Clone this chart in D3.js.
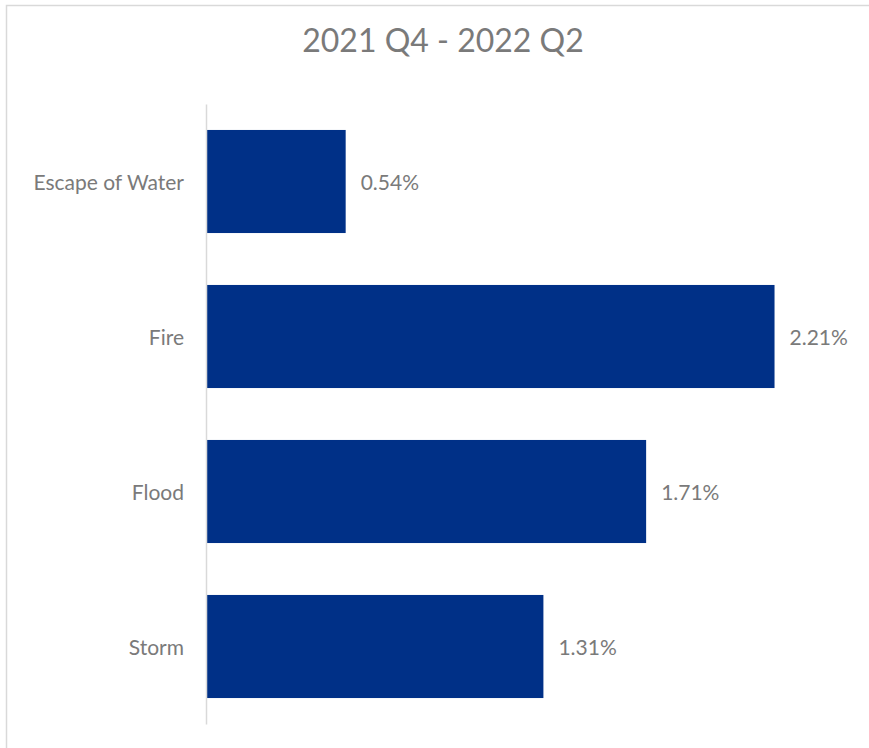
<!DOCTYPE html>
<html>
<head>
<meta charset="utf-8">
<script src="https://cdn.jsdelivr.net/npm/d3@7"></script>
<style>
  body { margin: 0; background: #fff; }
  text { font-family: Lato, "Open Sans", sans-serif; fill: #7a7a7a; }
</style>
</head>
<body>
<div id="chart"></div>
<script>
// chart data
var categories = ["Escape of Water", "Fire", "Flood", "Storm"];
var values = [0.54, 2.21, 1.71, 1.31];
var title = "2021 Q4 - 2022 Q2";

var W = 869, H = 748;
var margin = {top: 104, right: 20, bottom: 24, left: 207};

var svg = d3.select("#chart")
  .append("svg")
    .attr("width", W)
    .attr("height", H);

// chart frame (only top + left visible in the crop)
svg.append("rect")
    .attr("x", 6.5)
    .attr("y", 5.5)
    .attr("width", 1000)
    .attr("height", 1000)
    .attr("fill", "none")
    .attr("stroke", "#d9d9d9")
    .attr("stroke-width", 1.5);

svg.append("text")
    .attr("x", 443)
    .attr("y", 52)
    .attr("text-anchor", "middle")
    .style("font-size", "32px")
    .text(title);

var x = d3.scaleLinear()
    .domain([0, 2.5])
    .range([margin.left, 849]);

var y = d3.scaleBand()
    .domain(categories)
    .range([margin.top, H - margin.bottom])
    .paddingInner(0.335)
    .paddingOuter(0.1675);

var data = categories.map(function(c, i) { return {cat: c, val: values[i]}; });

svg.selectAll("rect.bar")
  .data(data)
  .enter()
  .append("rect")
    .attr("class", "bar")
    .attr("x", x(0))
    .attr("y", function(d) { return y(d.cat); })
    .attr("width", function(d) { return x(d.val) - x(0); })
    .attr("height", y.bandwidth())
    .attr("fill", "#003087");

// value labels
svg.selectAll("text.val")
  .data(data)
  .enter()
  .append("text")
    .attr("class", "val")
    .attr("x", function(d) { return x(d.val) + 15; })
    .attr("y", function(d) { return y(d.cat) + y.bandwidth() / 2 + 1; })
    .attr("dy", "0.35em")
    .style("font-size", "21px")
    .text(function(d) { return d3.format(".2f")(d.val) + "%"; });

// category axis
var yAxis = svg.append("g")
    .attr("transform", "translate(" + (margin.left - 1) + ",0)")
    .call(d3.axisLeft(y).tickSize(0).tickPadding(22));

yAxis.select(".domain")
    .attr("stroke", "#d9d9d9")
    .attr("stroke-width", 1.5);

yAxis.selectAll("text")
    .attr("dy", "0.35em")
    .attr("y", 1)
    .style("font-size", "21px")
    .style("font-family", "Lato, 'Open Sans', sans-serif")
    .attr("fill", "#7a7a7a");
</script>
</body>
</html>
